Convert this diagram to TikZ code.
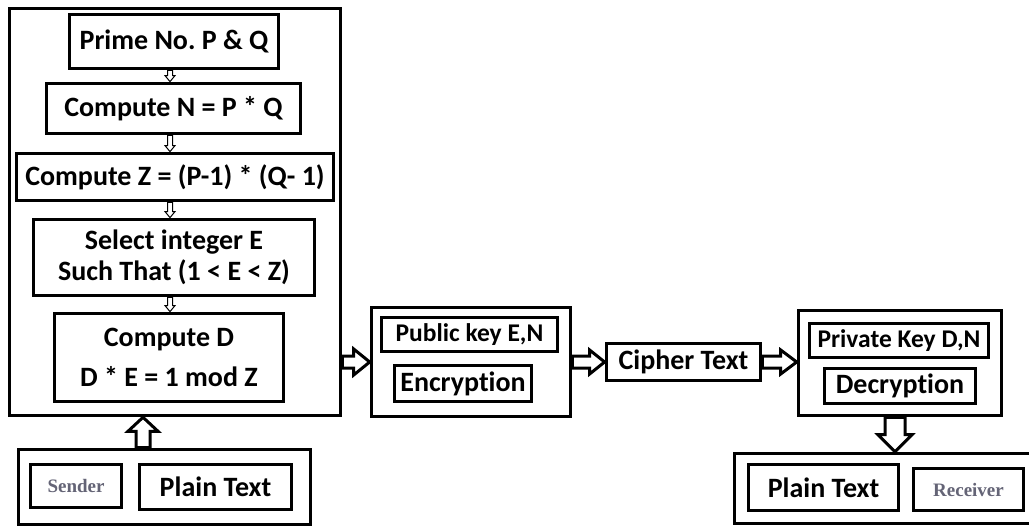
\documentclass[tikz,border=0pt]{standalone}
\usepackage{fontspec}
\setmainfont{Carlito}[Ligatures=NoCommon]
\newfontfamily\tagfont{Liberation Serif}
\usetikzlibrary{calc}

\definecolor{taggray}{RGB}{100,100,118}

\newcommand{\labtxt}{\fontsize{28}{33}\selectfont\bfseries}
\newcommand{\keytxt}{\fontsize{25.5}{30}\selectfont\bfseries}
\newcommand{\tagtxt}{\tagfont\fontsize{19}{22}\selectfont\bfseries\color{taggray}}

% hollow block arrow: [style]{from}{to}{half shaft}{half head}{head length}
\newcommand{\hollowarrow}[6][]{%
	\coordinate (ha-s) at (#2);
	\coordinate (ha-e) at (#3);
	\coordinate (ha-h) at ($(ha-e)!#6!(ha-s)$);
	\draw[arrowline,#1] ($(ha-s)!#4!90:(ha-e)$) -- ($(ha-h)!#4!90:(ha-e)$) -- ($(ha-h)!#5!90:(ha-e)$) -- (ha-e)
		-- ($(ha-h)!#5!-90:(ha-e)$) -- ($(ha-h)!#4!-90:(ha-e)$) -- ($(ha-s)!#4!-90:(ha-e)$) -- cycle;
}

\tikzset{
	outerbox/.style={draw, line width=3.6pt, inner sep=0pt},
	innerbox/.style={draw, line width=3.8pt, inner sep=0pt, align=center},
	arrowline/.style={draw, fill=white, line width=3pt, line join=miter},
	thinarrow/.style={line width=1pt}
}

\begin{document}
\begin{tikzpicture}[x=1pt, y=-1pt]
				\clip (0,0) rectangle (1029,527);
				\fill[white] (0,0) rectangle (1029,527);
				
				\node[outerbox, minimum width=331pt, minimum height=407pt] (keygen) at (175,212) {};
				\node[innerbox, minimum width=209pt, minimum height=54pt] (prime) at (174,41.5) {\labtxt Prime No.\ P \& Q};
				\node[innerbox, minimum width=254pt, minimum height=50pt] (modn) at (173.5,108.5) {\labtxt Compute N = P * Q};
				\node[innerbox, minimum width=317pt, minimum height=47pt] (phi) at (175,177) {\labtxt Compute Z = (P-1) * (Q- 1)};
				\node[innerbox, minimum width=281pt, minimum height=76pt] (sele) at (174,257.5) {\labtxt Select integer E\\[4pt] \labtxt Such That (1 < E < Z)};
				\node[innerbox, minimum width=229pt, minimum height=88pt] (comd) at (169,357.5) {\labtxt Compute D\\[14pt] \labtxt D * E = 1 mod Z};
				
				\hollowarrow[thinarrow]{prime.south -| 170,0}{modn.north -| 170,0}{2.5pt}{5pt}{6pt}
				\hollowarrow[thinarrow]{modn.south -| 170,0}{phi.north -| 170,0}{2.5pt}{5pt}{6pt}
				\hollowarrow[thinarrow]{phi.south -| 170,0}{sele.north -| 170,0}{2.5pt}{5pt}{6pt}
				\hollowarrow[thinarrow]{sele.south -| 170,0}{comd.north -| 170,0}{2.5pt}{5pt}{6pt}
				
				\node[outerbox, minimum width=292pt, minimum height=75pt] (sendbox) at (164.5,487) {};
				\node[innerbox, minimum width=91pt, minimum height=43pt] (sender) at (76,486) {\tagtxt Sender};
				\node[innerbox, minimum width=152pt, minimum height=45pt] (plainA) at (215.5,487) {\labtxt Plain Text};
				
				\coordinate (up) at (143,0);
				\hollowarrow{sendbox.north -| up}{keygen.south -| up}{7pt}{15pt}{14pt}
				
				\node[outerbox, minimum width=199pt, minimum height=109pt] (encbox) at (471,362) {};
				\node[innerbox, minimum width=176pt, minimum height=34pt] (pubkey) at (469.5,334.5) {\keytxt Public key E,N};
				\node[innerbox, minimum width=137pt, minimum height=36pt] (encrypt) at (463,383.5) {\labtxt Encryption};
				
				\node[innerbox, minimum width=154pt, minimum height=37pt] (cipher) at (683.5,362) {\labtxt Cipher Text};
				
				\node[outerbox, minimum width=203pt, minimum height=105pt] (decbox) at (900,363) {};
				\node[innerbox, minimum width=179pt, minimum height=34pt] (privkey) at (899,340.5) {\keytxt Private Key D,N};
				\node[innerbox, minimum width=151pt, minimum height=35pt] (decrypt) at (900,386) {\labtxt Decryption};
				
				\hollowarrow{keygen.east |- encbox.west}{encbox.west}{6pt}{13pt}{16pt}
				\hollowarrow{encbox.east}{cipher.west}{6pt}{12pt}{15pt}
				\hollowarrow{cipher.east}{cipher.east -| decbox.west}{6pt}{12pt}{16pt}
				
				\node[outerbox, minimum width=304pt, minimum height=70pt] (recvbox) at (886.5,488.5) {};
				\node[innerbox, minimum width=150pt, minimum height=46pt] (plainB) at (823.5,487.5) {\labtxt Plain Text};
				\node[innerbox, minimum width=110pt, minimum height=42pt] (receiver) at (968.5,489.5) {\tagtxt Receiver};
				
				\coordinate (dn) at (895,0);
				\hollowarrow{decbox.south -| dn}{recvbox.north -| dn}{10pt}{17pt}{17pt}
\end{tikzpicture}
\end{document}
